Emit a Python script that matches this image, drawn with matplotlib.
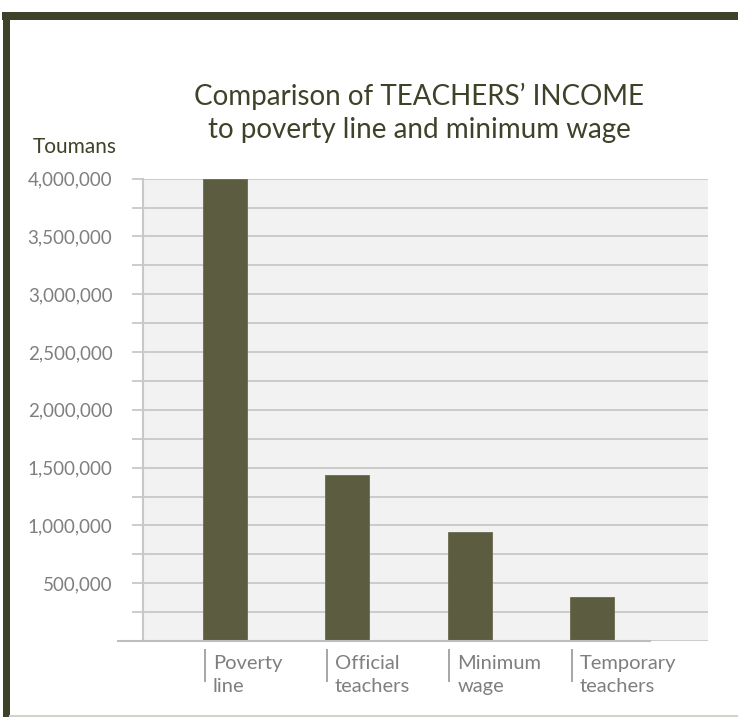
import numpy as np
import matplotlib
matplotlib.use("Agg")
from matplotlib import pyplot as plt
from matplotlib import transforms
from matplotlib.patches import Rectangle
from matplotlib.ticker import MultipleLocator, FuncFormatter

categories = ["Poverty\nline", "Official\nteachers", "Minimum\nwage", "Temporary\nteachers"]
income = [4000000, 1440000, 940000, 380000]

W, H = 738, 717
olive = "#3e4229"
bar_col = "#5c5c40"
grey_txt = "#7f7f7f"

plt.rcParams["font.family"] = ["Lato", "DejaVu Sans"]

fig = plt.figure(figsize=(W / 100, H / 100), dpi=100)
fig.patch.set_facecolor("white")

# frame around the picture
fig.add_artist(Rectangle((2 / W, 1 - 20 / H), 1, 8 / H, transform=fig.transFigure,
                         color=olive, lw=0))
fig.add_artist(Rectangle((3 / W, 0), 7 / W, 1 - 12 / H, transform=fig.transFigure,
                         color=olive, lw=0))
fig.add_artist(plt.Line2D([10 / W, 1], [1.5 / H, 1.5 / H], transform=fig.transFigure,
                          color="#d2d2ca", lw=1.5))

ax = fig.add_axes([143 / W, 76 / H, 565 / W, 462.4 / H])
ax.set_facecolor("#f2f2f2")

x = np.arange(len(categories))
bw = 0.36
ax.bar(x, income, width=bw, color=bar_col, edgecolor="#6b6b52", linewidth=0.6, zorder=3)

ax.set_xlim(-0.67, 3.95)
ax.set_ylim(0, 4000000)

ax.yaxis.set_major_locator(MultipleLocator(500000))
ax.yaxis.set_minor_locator(MultipleLocator(250000))
ax.yaxis.set_major_formatter(FuncFormatter(lambda v, p: "" if v == 0 else f"{int(v):,}"))
ax.grid(axis="y", which="both", color="#c8c8c8", lw=1.3, zorder=1)
ax.tick_params(axis="y", which="both", length=8, width=1.3, color="#c8c8c8",
               labelcolor=grey_txt, labelsize=13.5, pad=14)
ax.set_xticks([])

for s in ["top", "right", "bottom"]:
    ax.spines[s].set_visible(False)
ax.spines["left"].set_color("#c8c8c8")
ax.spines["left"].set_linewidth(1.5)
ax.spines["left"].set_zorder(2)

# horizontal axis line, longer to the left, shorter to the right
ax.plot([-25 / 565, 507 / 565], [0, 0], transform=ax.transAxes, color="#bdbdbd",
        lw=1.5, clip_on=False, zorder=4)

# category labels with small separators
tr = transforms.blended_transform_factory(ax.transData, ax.transAxes)
for i, lab in enumerate(categories):
    sx = x[i] - bw / 2 + 0.016
    ax.plot([sx, sx], [-0.0195, -0.0865], transform=tr, color="#a6a6a6", lw=1.4,
            clip_on=False)
    ax.text(sx + 0.065, -0.031, lab, transform=tr, ha="left", va="top",
            color=grey_txt, fontsize=14.5, linespacing=1.4)

fig.text(117 / W, 1 - 147 / H, "Toumans", ha="right", va="center", color=olive,
         fontsize=15)
fig.text(419 / W, 1 - 113 / H, "Comparison of TEACHERS\u2019 INCOME\nto poverty line and minimum wage",
         ha="center", va="center", color=olive, fontsize=20, linespacing=1.3)

fig.savefig("out.png", dpi=100)
